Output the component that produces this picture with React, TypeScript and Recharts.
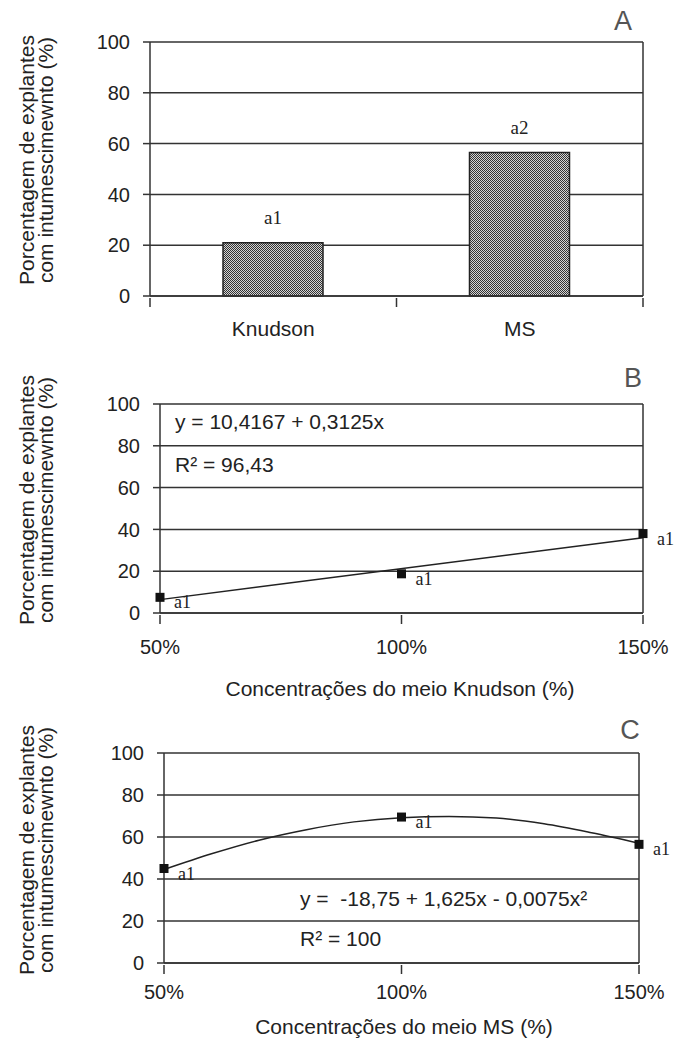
import React from "react";
import { BarChart, Bar, ComposedChart, Line, XAxis, YAxis, CartesianGrid, LabelList } from "recharts";

// panel A
const categories = ["Knudson", "MS"];
const valuesA = [21, 56.5];
const lettersA = ["a1", "a2"];

// panel B
const concentrations = [50, 100, 150];
const valuesB = [7.5, 18.75, 38];
const lettersB = ["a1", "a1", "a1"];
const trendBx = [50, 150];
const trendBy = [6.4, 36];

// panel C
const valuesC = [45, 69.5, 56.5];
const lettersC = ["a1", "a1", "a1"];
const trendCx = [50, 60, 70, 80, 90, 100, 110, 120, 130, 140, 150];
const trendCy = [44.5, 52, 58.5, 63.5, 67.2, 69.2, 69.8, 69, 66.3, 62, 57];

const yTicks = [0, 20, 40, 60, 80, 100];
const yLabel = ["Porcentagem de explantes", "com intumescimewnto (%)"];

const SANS = "'Liberation Sans', Arial, sans-serif";
const SERIF = "'Liberation Serif', 'Times New Roman', serif";
const INK = "#222";
const LINE = "#333";

const dataA = categories.map((name, i) => ({ name, value: valuesA[i], letter: lettersA[i] }));
const dataB = concentrations.map((x, i) => ({ x, y: valuesB[i], letter: lettersB[i] }));
const lineB = trendBx.map((x, i) => ({ x, y: trendBy[i] }));
const dataC = concentrations.map((x, i) => ({ x, y: valuesC[i], letter: lettersC[i] }));
const lineC = trendCx.map((x, i) => ({ x, y: trendCy[i] }));

function YTitle({ cy }: { cy: number }) {
  return (
    <g fontFamily={SANS} fontSize={21} fill={INK}>
      <text transform={`translate(26,${cy}) rotate(-90)`} textAnchor="middle" dominantBaseline="central">{yLabel[0]}</text>
      <text transform={`translate(45,${cy}) rotate(-90)`} textAnchor="middle" dominantBaseline="central">{yLabel[1]}</text>
    </g>
  );
}

function PanelLetter({ x, y, t }: { x: number; y: number; t: string }) {
  return (
    <text x={x} y={y} textAnchor="middle" dominantBaseline="central" fontFamily={SANS} fontSize={27} fill="#555">{t}</text>
  );
}

const yAxisProps = {
  type: "number" as const,
  domain: [0, 100],
  ticks: yTicks,
  interval: 0,
  width: 60,
  tickSize: 7,
  tickMargin: 13,
  axisLine: { stroke: LINE, strokeWidth: 1.5 },
  tickLine: { stroke: LINE, strokeWidth: 1.5 },
  tick: { fontSize: 20, fill: INK, fontFamily: SANS },
};

function Square(p: any) {
  if (p.cx == null) return <g key={p.index} />;
  return <rect key={p.index} x={p.cx - 4.5} y={p.cy - 4.5} width={9} height={9} fill="#111" />;
}

function PointLetter(p: any) {
  return (
    <text x={p.x + 14} y={p.y + 5} textAnchor="start" dominantBaseline="central" fontFamily={SERIF} fontSize={18} fill={INK}>
      {p.value}
    </text>
  );
}

function makeNumTick(dy: number) {
  return (p: any) => (
    <g>
      <line x1={p.x} x2={p.x} y1={p.y} y2={p.y + 9} stroke={LINE} strokeWidth={1.5} />
      <text x={p.x} y={p.y + dy} textAnchor="middle" dominantBaseline="central" fontFamily={SANS} fontSize={20} fill={INK}>
        {p.payload.value}%
      </text>
    </g>
  );
}

const A_LEFT = 150, A_RIGHT = 643;
const halfBand = (A_RIGHT - A_LEFT) / categories.length / 2;

function CatTick(p: any) {
  const last = p.index === categories.length - 1;
  return (
    <g>
      <line x1={p.x - halfBand} x2={p.x - halfBand} y1={p.y} y2={p.y + 9} stroke={LINE} strokeWidth={1.5} />
      {last && <line x1={p.x + halfBand} x2={p.x + halfBand} y1={p.y} y2={p.y + 9} stroke={LINE} strokeWidth={1.5} />}
      <text x={p.x} y={p.y + 30} textAnchor="middle" dominantBaseline="central" fontFamily={SANS} fontSize={21} fill={INK}>
        {p.payload.value}
      </text>
    </g>
  );
}

function BarLetter(p: any) {
  return (
    <text x={p.x + p.width / 2} y={p.y - 25} textAnchor="middle" dominantBaseline="central" fontFamily={SERIF} fontSize={19} fill={INK}>
      {p.value}
    </text>
  );
}

const rightAxis = (
  <YAxis yAxisId="r" orientation="right" domain={[0, 100]} width={1} tick={false} tickLine={false} axisLine={{ stroke: LINE, strokeWidth: 1.5 }} />
);

export default function App() {
  return (
    <div style={{ position: "absolute", left: 0, top: 0, width: 675, height: 1039, background: "#fff" }}>
      <div style={{ position: "absolute", left: 0, top: 0 }}>
        <BarChart width={675} height={340} data={dataA} margin={{ top: 42, right: 31, left: 90, bottom: 14 }}>
          <defs>
            <pattern id="stipple" width="2" height="2" patternUnits="userSpaceOnUse">
              <rect width="2" height="2" fill="#d4d4d4" />
              <rect width="1" height="1" fill="#333" />
              <rect x="1" y="1" width="1" height="1" fill="#333" />
            </pattern>
          </defs>
          <CartesianGrid vertical={false} stroke={LINE} strokeWidth={1.5} />
          <XAxis dataKey="name" interval={0} height={30} tickSize={0} tickLine={false} axisLine={{ stroke: LINE, strokeWidth: 1.5 }} tick={<CatTick />} />
          <YAxis {...yAxisProps} />
          {rightAxis}
          <Bar dataKey="value" barSize={100} fill="url(#stipple)" stroke="#222" strokeWidth={1.5} isAnimationActive={false}>
            <LabelList dataKey="letter" content={<BarLetter />} />
          </Bar>
          <YTitle cy={160} />
          <PanelLetter x={623} y={21} t="A" />
        </BarChart>
      </div>

      <div style={{ position: "absolute", left: 0, top: 340 }}>
        <ComposedChart width={675} height={360} margin={{ top: 64, right: 31, left: 100, bottom: 57 }}>
          <CartesianGrid vertical={false} stroke={LINE} strokeWidth={1.5} />
          <XAxis type="number" dataKey="x" domain={[50, 150]} ticks={concentrations} interval={0} height={30} tickSize={0} tickLine={false} axisLine={{ stroke: LINE, strokeWidth: 1.5 }} tick={makeNumTick(32)} />
          <YAxis {...yAxisProps} />
          {rightAxis}
          <Line data={lineB} dataKey="y" stroke={INK} strokeWidth={1.5} dot={false} isAnimationActive={false} />
          <Line data={dataB} dataKey="y" stroke="none" dot={Square} activeDot={false} isAnimationActive={false}>
            <LabelList dataKey="letter" content={<PointLetter />} />
          </Line>
          <g fontFamily={SANS} fontSize={21} fill={INK}>
            <text x={175} y={81} dominantBaseline="central">y = 10,4167 + 0,3125x</text>
            <text x={175} y={124} dominantBaseline="central">R² = 96,43</text>
            <text x={400} y={348} textAnchor="middle" dominantBaseline="central">Concentrações do meio Knudson (%)</text>
          </g>
          <YTitle cy={160} />
          <PanelLetter x={633} y={38} t="B" />
        </ComposedChart>
      </div>

      <div style={{ position: "absolute", left: 0, top: 700 }}>
        <ComposedChart width={675} height={339} margin={{ top: 53, right: 35, left: 104, bottom: 46 }}>
          <CartesianGrid vertical={false} stroke={LINE} strokeWidth={1.5} />
          <XAxis type="number" dataKey="x" domain={[50, 150]} ticks={concentrations} interval={0} height={30} tickSize={0} tickLine={false} axisLine={{ stroke: LINE, strokeWidth: 1.5 }} tick={makeNumTick(27)} />
          <YAxis {...yAxisProps} />
          {rightAxis}
          <Line data={lineC} dataKey="y" type="monotone" stroke={INK} strokeWidth={1.5} dot={false} isAnimationActive={false} />
          <Line data={dataC} dataKey="y" stroke="none" dot={Square} activeDot={false} isAnimationActive={false}>
            <LabelList dataKey="letter" content={<PointLetter />} />
          </Line>
          <g fontFamily={SANS} fontSize={21} fill={INK}>
            <text x={300} y={198} dominantBaseline="central" xmlSpace="preserve">y =  -18,75 + 1,625x - 0,0075x²</text>
            <text x={300} y={238} dominantBaseline="central">R² = 100</text>
            <text x={404} y={326} textAnchor="middle" dominantBaseline="central">Concentrações do meio MS (%)</text>
          </g>
          <YTitle cy={150} />
          <PanelLetter x={630} y={30} t="C" />
        </ComposedChart>
      </div>
    </div>
  );
}
